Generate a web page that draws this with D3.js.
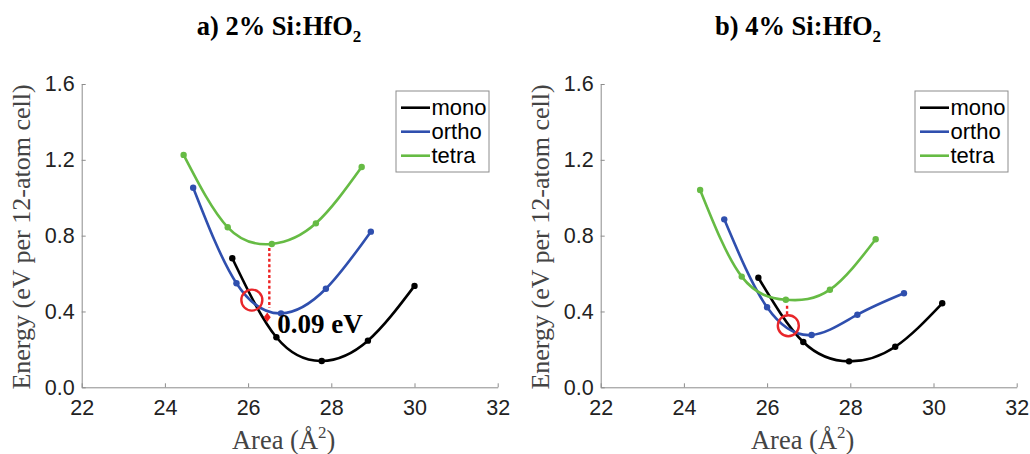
<!DOCTYPE html>
<html>
<head>
<meta charset="utf-8">
<script src="https://cdn.jsdelivr.net/npm/d3@7"></script>
<style>
  body { margin: 0; background: #fff; }
  svg { display: block; }
</style>
</head>
<body>
<div id="chart"></div>
<script>
// 数据
const seriesNames = ['mono', 'ortho', 'tetra'];
const seriesColors = ['#000000', '#2f4fae', '#66bb44'];

// a) 2% Si:HfO2
const monoAreaA = [25.62, 26.68, 27.77, 28.88, 30.0];
const monoEnergyA = [0.681, 0.264, 0.139, 0.246, 0.535];
const orthoAreaA = [24.68, 25.72, 26.79, 27.87, 28.95];
const orthoEnergyA = [1.053, 0.549, 0.39, 0.52, 0.821];
const tetraAreaA = [24.45, 25.51, 26.57, 27.63, 28.73];
const tetraEnergyA = [1.226, 0.844, 0.756, 0.865, 1.162];

// b) 4% Si:HfO2
const monoAreaB = [25.79, 26.87, 27.97, 29.08, 30.21];
const monoEnergyB = [0.578, 0.239, 0.137, 0.214, 0.443];
const orthoAreaB = [24.97, 26.0, 27.07, 28.17, 29.29];
const orthoEnergyB = [0.886, 0.422, 0.276, 0.383, 0.496];
const tetraAreaB = [24.39, 25.39, 26.45, 27.51, 28.61];
const tetraEnergyB = [1.041, 0.584, 0.462, 0.515, 0.781];

const xTicks = [22, 24, 26, 28, 30, 32];
const yTicks = [0, 0.4, 0.8, 1.2, 1.6];

const svg = d3.select('#chart')
    .append('svg')
    .attr('width', 1030)
    .attr('height', 454);

function zip(xs, ys) {
    return xs.map((x, i) => ({x: x, y: ys[i]}));
}

// 画一个面板
function drawPanel(opt) {
    const x = d3.scaleLinear().domain([22, 32]).range([opt.left, opt.left + 416]);
    const y = d3.scaleLinear().domain([0, 1.6]).range([387.3, 84]);
    const g = svg.append('g');

    // 坐标轴
    const xAxis = g.append('g')
        .attr('transform', `translate(0,${y(0)})`)
        .call(d3.axisBottom(x).tickValues(xTicks).tickSizeInner(-4).tickSizeOuter(0).tickPadding(12));
    const yAxis = g.append('g')
        .attr('transform', `translate(${x(22)},0)`)
        .call(d3.axisLeft(y).tickValues(yTicks).tickFormat(d3.format('.1f')).tickSizeInner(-4).tickSizeOuter(0).tickPadding(7));
    [xAxis, yAxis].forEach(a => {
        a.select('.domain').attr('stroke', '#8c8c8c').attr('stroke-width', 1);
        a.selectAll('.tick line').attr('stroke', '#8c8c8c');
        a.selectAll('text')
            .style('font-family', '"Liberation Sans", Arial, sans-serif')
            .style('font-size', '21.5px')
            .attr('fill', '#222');
    });
    xAxis.selectAll('text').attr('dy', '0.72em');

    // 曲线和数据点
    const line = d3.line()
        .x(d => x(d.x))
        .y(d => y(d.y))
        .curve(d3.curveNatural);
    opt.series.forEach((s, i) => {
        const pts = zip(s[0], s[1]);
        g.append('path')
            .datum(pts)
            .attr('d', line)
            .attr('fill', 'none')
            .attr('stroke', seriesColors[i])
            .attr('stroke-width', 2.6);
        g.selectAll(null)
            .data(pts)
            .enter()
            .append('circle')
            .attr('cx', d => x(d.x))
            .attr('cy', d => y(d.y))
            .attr('r', 3.2)
            .attr('fill', seriesColors[i]);
    });

    // 红色标注
    g.append('line')
        .attr('x1', x(opt.dotX)).attr('x2', x(opt.dotX))
        .attr('y1', y(opt.dotY[0])).attr('y2', y(opt.dotY[1]))
        .attr('stroke', '#ee2222')
        .attr('stroke-width', 2.4)
        .attr('stroke-dasharray', '3,2.4');
    if (opt.arrow) {
        const ax = x(opt.arrow[0]), ay1 = y(opt.arrow[1]), ay2 = y(opt.arrow[2]);
        const my = (ay1 + ay2) / 2;
        g.append('path')
            .attr('d', `M${ax},${ay1}L${ax + 3.5},${my}L${ax},${ay2}L${ax - 3.5},${my}Z`)
            .attr('fill', '#ee2222');
    }
    g.append('circle')
        .attr('cx', x(opt.ring[0]))
        .attr('cy', y(opt.ring[1]))
        .attr('r', 10.5)
        .attr('fill', 'none')
        .attr('stroke', '#e8262a')
        .attr('stroke-width', 2.4);
    if (opt.note) {
        g.append('text')
            .attr('x', x(opt.note[0]))
            .attr('y', y(opt.note[1]))
            .style('font-family', '"Liberation Serif", "Times New Roman", serif')
            .style('font-weight', 'bold')
            .style('font-size', '27px')
            .text(opt.note[2]);
    }

    // 标题
    const title = g.append('text')
        .attr('x', opt.titleX)
        .attr('y', 35)
        .attr('text-anchor', 'middle')
        .style('font-family', '"Liberation Serif", "Times New Roman", serif')
        .style('font-weight', 'bold')
        .style('font-size', '26.5px');
    title.append('tspan').text(opt.title);
    title.append('tspan').attr('dy', 7).style('font-size', '17px').text('2');

    // 轴标签
    g.append('text')
        .attr('transform', `translate(${opt.left - 52},237) rotate(-90)`)
        .attr('text-anchor', 'middle')
        .style('font-family', '"Liberation Serif", "Times New Roman", serif')
        .style('font-size', '26px')
        .attr('fill', '#444')
        .text('Energy (eV per 12-atom cell)');
    const xl = g.append('text')
        .attr('x', x(27) - 6)
        .attr('y', 449)
        .attr('text-anchor', 'middle')
        .style('font-family', '"Liberation Serif", "Times New Roman", serif')
        .style('font-size', '26.5px')
        .attr('fill', '#444');
    xl.append('tspan').text('Area (Å');
    xl.append('tspan').attr('dy', -11).style('font-size', '17px').text('2');
    xl.append('tspan').attr('dy', 11).text(')');

    // 图例
    const lg = g.append('g').attr('transform', `translate(${opt.legendX},91)`);
    lg.append('rect')
        .attr('width', 93).attr('height', 81)
        .attr('fill', '#fff')
        .attr('stroke', '#8c8c8c')
        .attr('stroke-width', 1);
    seriesNames.forEach((name, i) => {
        const ly = 16.7 + i * 24;
        lg.append('line')
            .attr('x1', 5).attr('x2', 34)
            .attr('y1', ly).attr('y2', ly)
            .attr('stroke', seriesColors[i])
            .attr('stroke-width', 2.6);
        lg.append('text')
            .attr('x', 35.5)
            .attr('y', ly + 7.5)
            .style('font-family', '"Liberation Sans", Arial, sans-serif')
            .style('font-size', '22px')
            .text(name);
    });
}

drawPanel({
    left: 81.7,
    title: 'a) 2% Si:HfO',
    titleX: 279,
    legendX: 396,
    series: [[monoAreaA, monoEnergyA], [orthoAreaA, orthoEnergyA], [tetraAreaA, tetraEnergyA]],
    dotX: 26.51,
    dotY: [0.735, 0.42],
    arrow: [26.46, 0.395, 0.345],
    ring: [26.09, 0.46],
    note: [26.7, 0.285, '0.09 eV']
});

drawPanel({
    left: 600.7,
    title: 'b) 4% Si:HfO',
    titleX: 798,
    legendX: 915,
    series: [[monoAreaB, monoEnergyB], [orthoAreaB, orthoEnergyB], [tetraAreaB, tetraEnergyB]],
    dotX: 26.48,
    dotY: [0.43, 0.375],
    arrow: null,
    ring: [26.51, 0.325],
    note: null
});
</script>
</body>
</html>
